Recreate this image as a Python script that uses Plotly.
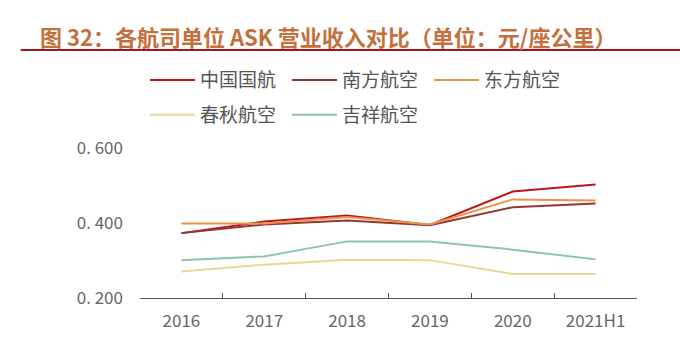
import plotly.graph_objects as go

categories = ["2016", "2017", "2018", "2019", "2020", "2021H1"]
air_china = [0.373, 0.404, 0.420, 0.395, 0.484, 0.503]
china_southern = [0.373, 0.396, 0.407, 0.394, 0.442, 0.452]
china_eastern = [0.399, 0.399, 0.416, 0.396, 0.463, 0.460]
spring = [0.271, 0.289, 0.302, 0.301, 0.264, 0.264]
juneyao = [0.301, 0.311, 0.351, 0.351, 0.329, 0.303]
y_ticks = [0.2, 0.4, 0.6]
y_tick_text = ["0. 200", "0. 400", "0. 600"]

series = [
    ("中国国航", air_china, "#C0141C", "legend"),
    ("南方航空", china_southern, "#943636", "legend"),
    ("东方航空", china_eastern, "#E8954A", "legend"),
    ("春秋航空", spring, "#E8D898", "legend2"),
    ("吉祥航空", juneyao, "#8CC5B5", "legend2"),
]

fig = go.Figure()
for name, vals, color, lg in series:
    fig.add_trace(go.Scatter(x=categories, y=vals, mode="lines", name=name,
                             line=dict(color=color, width=2), legend=lg))

legend_font = dict(family="Noto Sans CJK SC", size=19, color="#555555")
fig.update_layout(
    width=680, height=353,
    margin=dict(l=140, r=43, t=148, b=55),
    paper_bgcolor="white", plot_bgcolor="white",
    showlegend=True,
    legend=dict(orientation="h", x=0.01, xref="paper", y=1.453, yref="paper",
                xanchor="left", yanchor="middle", font=legend_font,
                entrywidth=82, itemwidth=45, bgcolor="rgba(0,0,0,0)"),
    legend2=dict(orientation="h", x=0.01, xref="paper", y=1.22, yref="paper",
                 xanchor="left", yanchor="middle", font=legend_font,
                 entrywidth=82, itemwidth=45, bgcolor="rgba(0,0,0,0)"),
    xaxis=dict(type="category", tickson="boundaries", ticks="inside", ticklen=5,
               tickcolor="#555555", showline=True, linecolor="#555555", linewidth=1,
               showgrid=False, ticklabelstandoff=8,
               tickfont=dict(family="Noto Sans CJK SC", size=17, color="#666666"),
               range=[-0.5, 5.5]),
    yaxis=dict(range=[0.2, 0.6], tickvals=y_ticks, ticktext=y_tick_text, showgrid=False,
               zeroline=False, showline=False, ticks="", ticklabelstandoff=16,
               tickfont=dict(family="Noto Sans CJK SC", size=17, color="#666666")),
    font=dict(family="Noto Sans CJK SC"),
)

fig.add_annotation(text="<b>图 32：各航司单位 ASK 营业收入对比（单位：元/座公里）</b>",
                   xref="paper", yref="paper", x=-0.205, y=1.745, xanchor="left", yanchor="middle",
                   showarrow=False, font=dict(family="Noto Sans CJK SC", size=22, color="#C4703C"))
fig.add_shape(type="line", xref="paper", yref="paper", x0=-0.24, x1=1.09, y0=1.653, y1=1.653,
              line=dict(color="#A3161B", width=2))

fig.write_html("out.html")
